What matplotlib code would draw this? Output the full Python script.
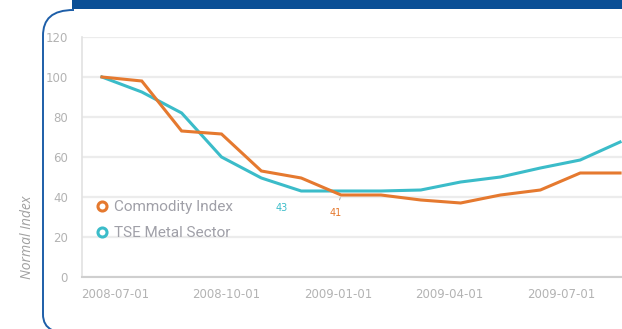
import matplotlib
matplotlib.use("Agg")
import matplotlib.pyplot as plt
from matplotlib.path import Path
from matplotlib.patches import PathPatch, Rectangle
from matplotlib.lines import Line2D

# normalised index, monthly observations
commodity = [100, 98, 73, 71.5, 53, 49.5, 41, 41, 38.5, 37, 41, 43.5, 52, 52]
tse_metal = [100, 92.5, 82, 60, 49.5, 43, 43, 43, 43.5, 47.5, 50, 54.5, 58.5, 67.5]
tick_labels = ['2008-07-01', '2008-10-01', '2009-01-01', '2009-04-01', '2009-07-01']
tick_pos = [0.33, 3.11, 5.92, 8.71, 11.52]
y_ticks = [0, 20, 40, 60, 80, 100, 120]

orange = '#e5792f'
teal = '#3bbcc9'
grey_txt = '#b3b3b3'
navy = '#0a4f96'

W, H = 622, 329
fig = plt.figure(figsize=(W / 100, H / 100), dpi=100)

# decoration layer in pixel units
deco = fig.add_axes([0, 0, 1, 1])
deco.set_xlim(0, W)
deco.set_ylim(H, 0)
deco.axis('off')
deco.add_patch(Rectangle((72, 0), W - 72, 9, color=navy, lw=0))
verts = [(74, 10), (52, 10), (43, 19), (43, 36),
         (43, 314), (43, 322), (46, 327), (52, 330)]
codes = [Path.MOVETO, Path.CURVE4, Path.CURVE4, Path.CURVE4,
         Path.LINETO, Path.CURVE4, Path.CURVE4, Path.CURVE4]
deco.add_patch(PathPatch(Path(verts, codes), fc='none', ec='#1d5ea8', lw=1.4))

ax = fig.add_axes([82 / W, 52 / H, 558 / W, 240 / H])
x = list(range(len(commodity)))
ax.plot(x, commodity, color=orange, lw=2.2, solid_joinstyle='miter', zorder=3)
ax.plot(x, tse_metal, color=teal, lw=2.2, solid_joinstyle='miter', zorder=2)

ax.set_xlim(-0.5, 13.5)
ax.set_ylim(0, 120)
ax.set_yticks(y_ticks)
ax.set_xticks(tick_pos)
ax.set_xticklabels(tick_labels)
ax.grid(axis='y', color='#ececec', lw=1.6)
ax.set_axisbelow(True)
ax.tick_params(axis='both', length=0, labelsize=8.5, labelcolor=grey_txt)
ax.tick_params(axis='y', pad=10)
ax.tick_params(axis='x', pad=8)
for s in ['top', 'right']:
    ax.spines[s].set_visible(False)
ax.spines['left'].set_color('#e2e2e2')
ax.spines['left'].set_linewidth(1.2)
ax.spines['bottom'].set_color('#cfcfcf')
ax.spines['bottom'].set_linewidth(1.5)

# value callouts at the lows
ax.annotate('43', xy=(5, tse_metal[5]), xytext=(-14, -12), textcoords='offset points',
            color=teal, fontsize=7, ha='center', va='center')
ax.annotate('41', xy=(6, commodity[6]), xytext=(-4, -13), textcoords='offset points',
            color=orange, fontsize=7, ha='center', va='center',
            arrowprops=dict(arrowstyle='-', color='#999999', lw=0.6, shrinkA=4, shrinkB=2))

handles = [Line2D([], [], ls='none', marker='o', ms=6.5, mfc='white', mec=orange, mew=2.2),
           Line2D([], [], ls='none', marker='o', ms=6.5, mfc='white', mec=teal, mew=2.2)]
ax.legend(handles, ['Commodity Index', 'TSE Metal Sector'], loc='lower left',
          bbox_to_anchor=(0.0, 0.11), frameon=False, handletextpad=0.2,
          labelspacing=0.75, prop={'family': 'Roboto', 'size': 11},
          labelcolor='#a0a0a8', handlelength=1.2, borderaxespad=0.3)

fig.text(28 / W, 1 - 237 / H, 'Normal Index', rotation=90, ha='center', va='center',
         fontsize=10, style='italic', family='Open Sans', color='#a0a0a0')

fig.savefig('out.png', dpi=100)
